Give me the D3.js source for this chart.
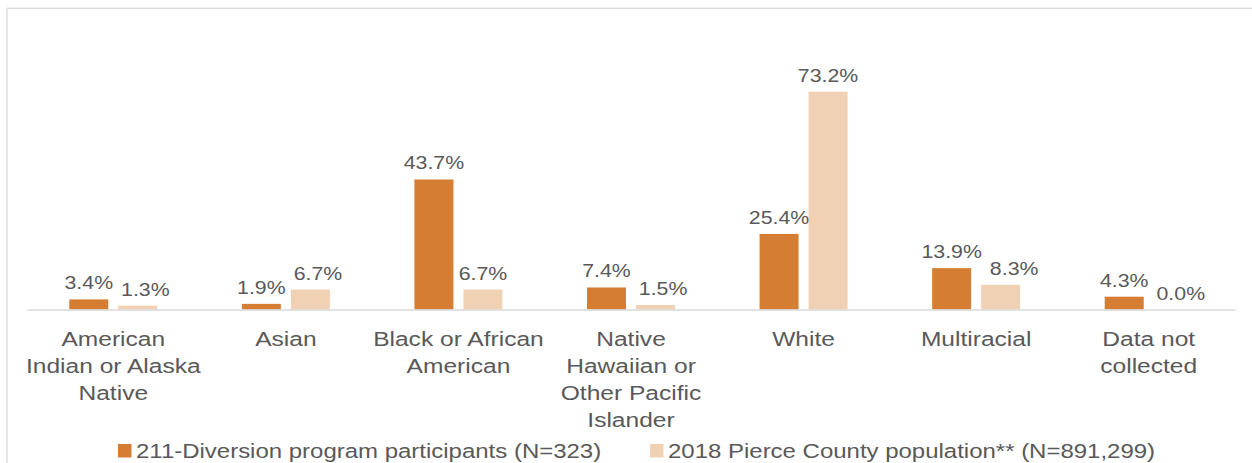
<!DOCTYPE html>
<html>
<head>
<meta charset="utf-8">
<script src="https://cdn.jsdelivr.net/npm/d3@7"></script>
<style>
  html, body { margin: 0; padding: 0; background: #ffffff; }
  svg { display: block; }
  text { font-family: "Liberation Sans", Arial, sans-serif; fill: #595959; }
</style>
</head>
<body>
<svg id="chart" width="1252" height="463"></svg>
<script>
// Race / ethnicity categories (multi-line labels)
const categories = [
  ["American", "Indian or Alaska", "Native"],
  ["Asian"],
  ["Black or African", "American"],
  ["Native", "Hawaiian or", "Other Pacific", "Islander"],
  ["White"],
  ["Multiracial"],
  ["Data not", "collected"]
];
const seriesNames = [
  "211-Diversion program participants (N=323)",
  "2018 Pierce County population** (N=891,299)"
];
const participants = [3.4, 1.9, 43.7, 7.4, 25.4, 13.9, 4.3];
const countyPop    = [1.3, 6.7, 6.7, 1.5, 73.2, 8.3, 0.0];
const colors = ["#D57D32", "#F0D1B4"];

const svg = d3.select("#chart");
const W = 1252, H = 463;
const plot = { left: 27, right: 1235, base: 309.5, top: 71.5 };
const sx = 1.14; // horizontal text stretch

// chart frame
svg.append("rect")
  .attr("x", 7).attr("y", 8.3)
  .attr("width", W + 10).attr("height", H + 10)
  .attr("fill", "none").attr("stroke", "#d9d9d9").attr("stroke-width", 1.3);

const x0 = d3.scaleBand()
  .domain(d3.range(categories.length))
  .range([plot.left, plot.right]);

const x1 = d3.scaleBand()
  .domain([0, 1])
  .range([-44, 44])
  .paddingInner(10 / 49);

const y = d3.scaleLinear().domain([0, 80]).range([plot.base, plot.top]);

const rows = categories.map((c, i) => ({ i, vals: [participants[i], countyPop[i]] }));

const groups = svg.append("g").selectAll("g")
  .data(rows).join("g")
  .attr("transform", d => `translate(${x0(d.i) + x0.bandwidth() / 2},0)`);

groups.selectAll("rect")
  .data(d => d.vals.map((v, s) => ({ v, s })))
  .join("rect")
  .attr("x", d => x1(d.s))
  .attr("width", x1.bandwidth())
  .attr("y", d => y(d.v))
  .attr("height", d => y(0) - y(d.v))
  .attr("fill", d => colors[d.s]);

// value labels, nudged apart when the pair would collide
const labelSize = 18.7;
groups.each(function (d) {
  const g = d3.select(this);
  const info = d.vals.map((v, s) => {
    const cx = x1(s) + x1.bandwidth() / 2;
    const by = y(v) - 10;
    const t = g.append("text")
      .attr("text-anchor", "middle")
      .attr("font-size", labelSize)
      .text(v.toFixed(1) + "%");
    const w = t.node().getComputedTextLength() * sx;
    return { t, cx, by, w };
  });
  const a = info[0], b = info[1];
  const vOverlap = Math.abs(a.by - b.by) < labelSize * 1.05;
  const gap = 8;
  if (vOverlap && (b.cx - b.w / 2) < (a.cx + a.w / 2 + gap)) {
    b.cx = a.cx + a.w / 2 + gap + b.w / 2;
  }
  info.forEach(o => o.t.attr("transform", `translate(${o.cx},${o.by}) scale(${sx},1)`));
});

// baseline axis
const xAxis = d3.axisBottom(x0).tickSize(0).tickFormat("");
const axisG = svg.append("g")
  .attr("transform", `translate(0,${plot.base})`)
  .call(xAxis);
axisG.select(".domain").attr("stroke", "#d9d9d9").attr("stroke-width", 1.5);

// category labels
groups.each(function (d) {
  const lines = categories[d.i];
  const t = d3.select(this).append("text")
    .attr("text-anchor", "middle")
    .attr("font-size", 21)
    .attr("transform", `translate(0,345.5) scale(1.17,1)`);
  lines.forEach((ln, k) => {
    t.append("tspan").attr("x", 0).attr("y", k * 27.3).text(ln);
  });
});

// legend
const legendX = [118, 650];
const leg = svg.append("g").selectAll("g")
  .data(seriesNames).join("g")
  .attr("transform", (d, i) => `translate(${legendX[i]},0)`);
leg.append("rect")
  .attr("x", 0).attr("y", 444).attr("width", 13.5).attr("height", 13.5)
  .attr("fill", (d, i) => colors[i]);
leg.append("text")
  .attr("font-size", 20.5)
  .attr("transform", `translate(18,457.7) scale(1.17,1)`)
  .text(d => d);
</script>
</body>
</html>
